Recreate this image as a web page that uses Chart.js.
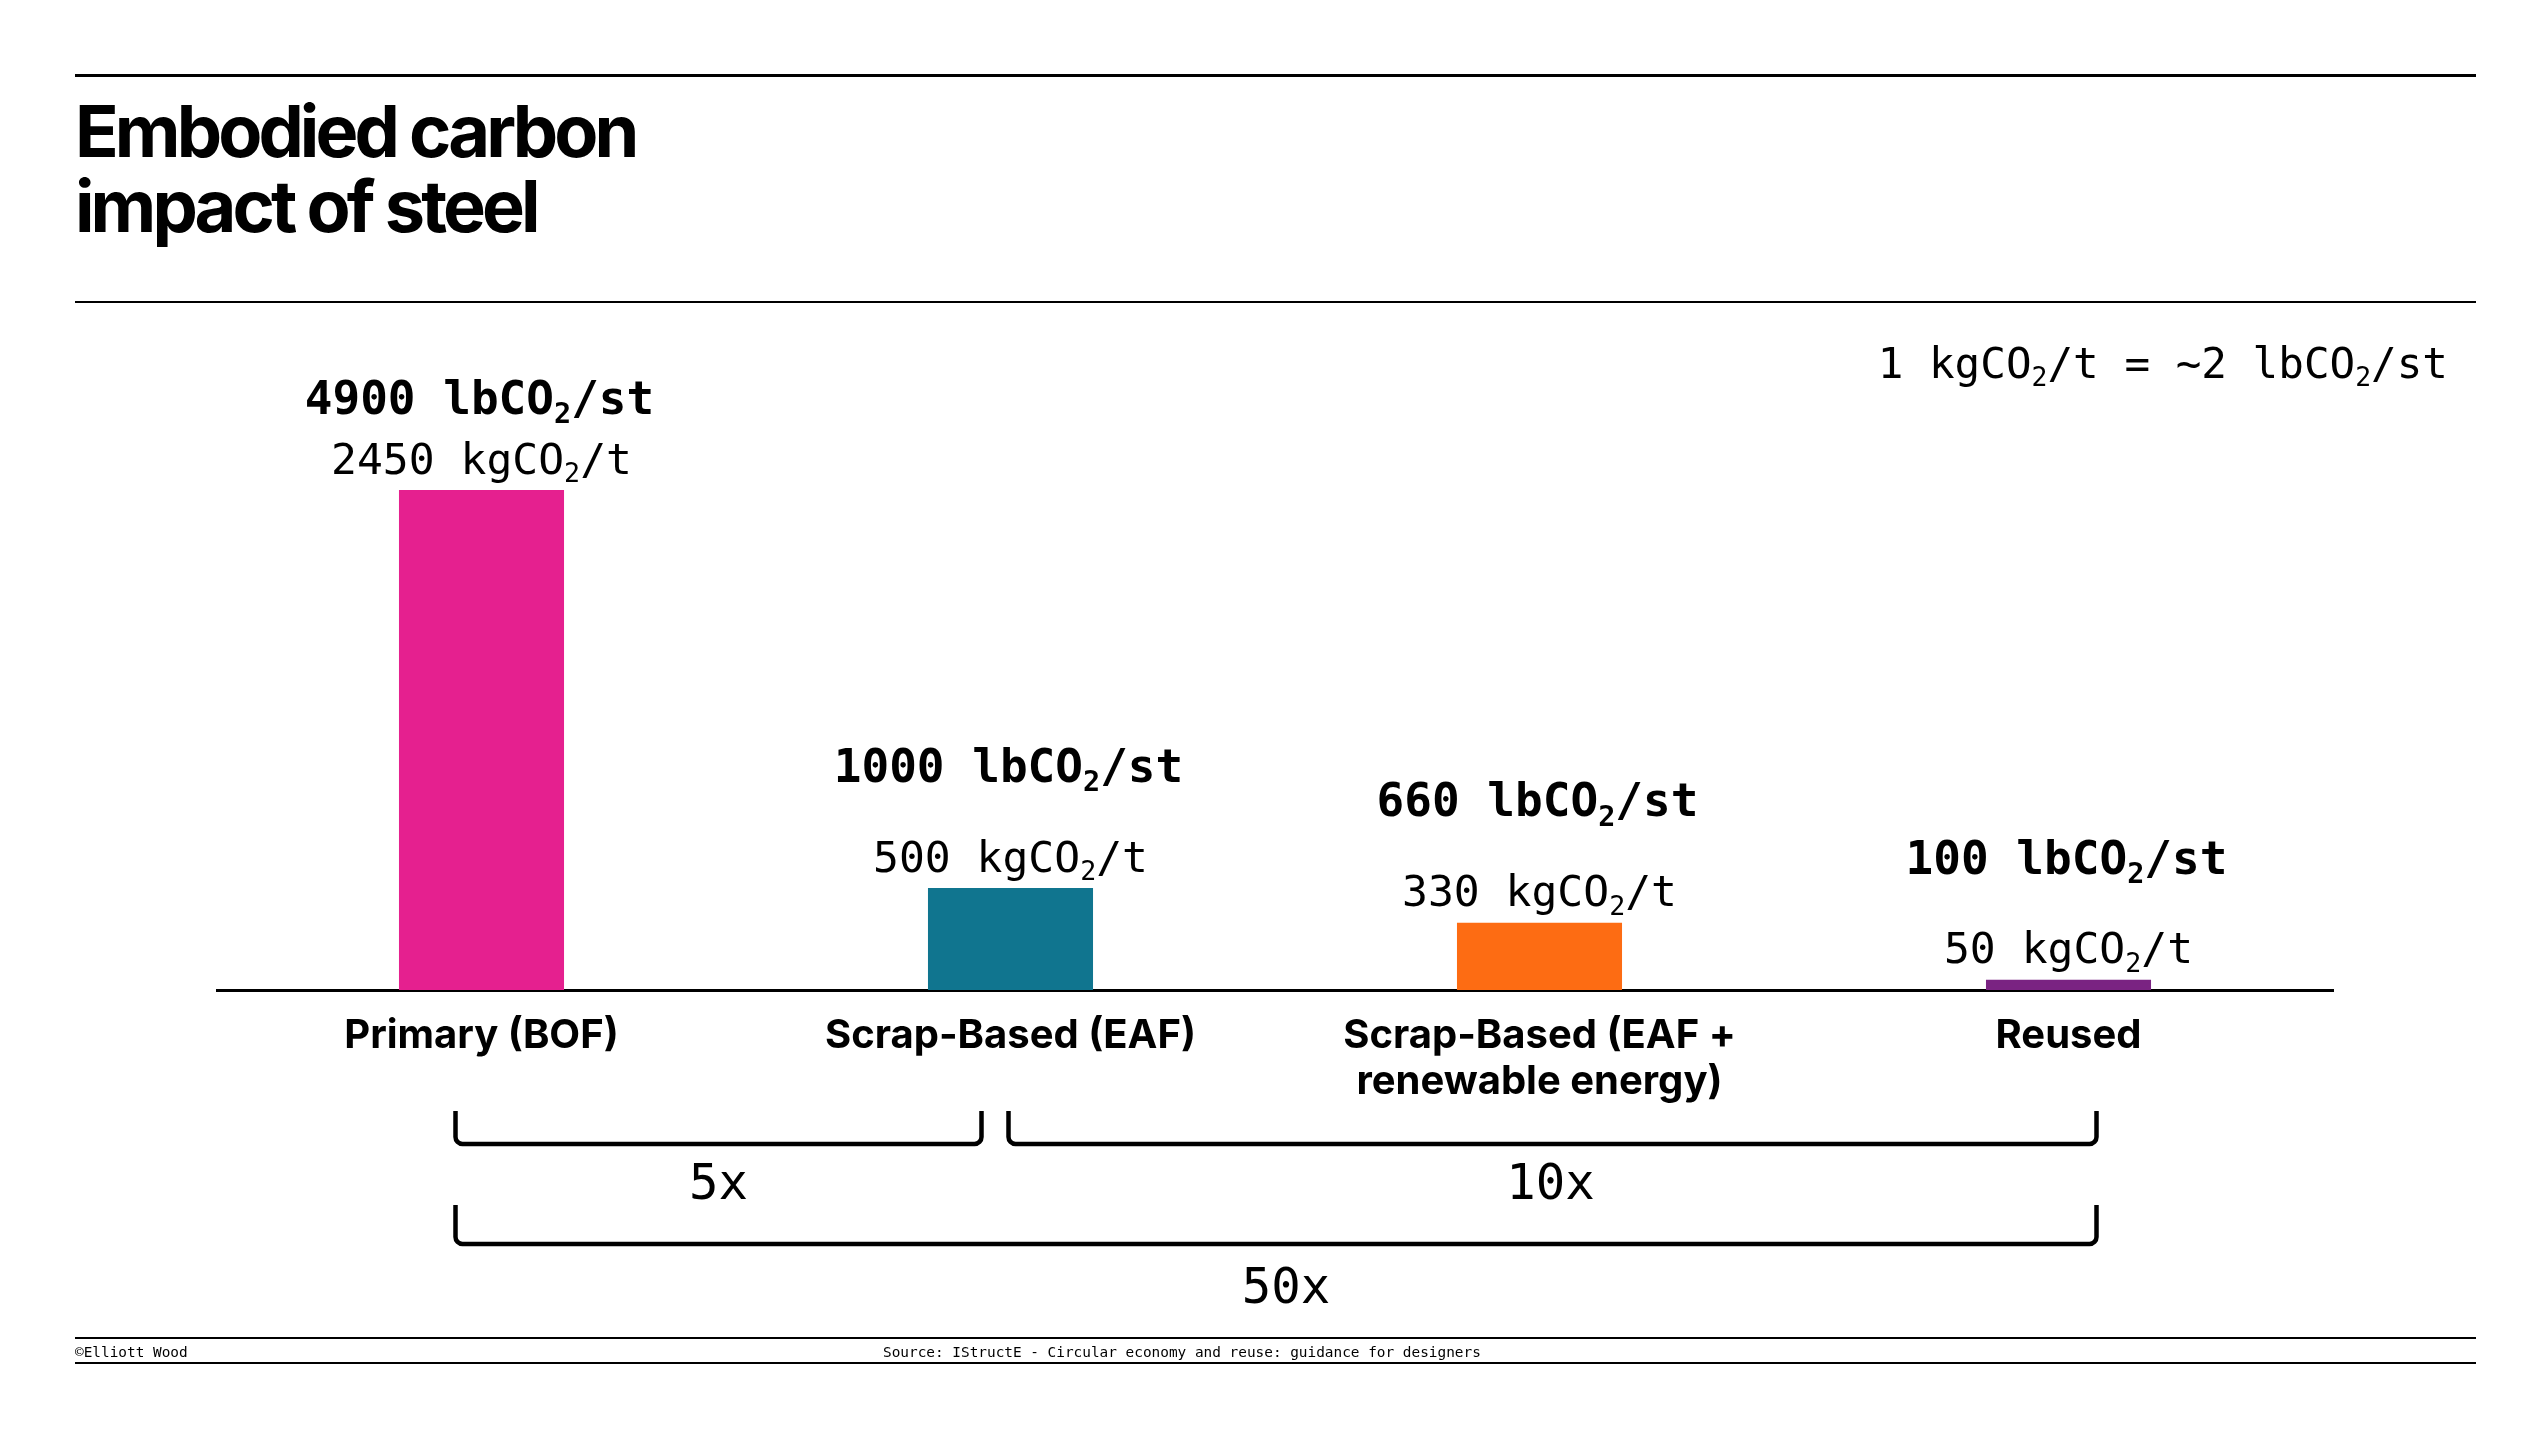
<!DOCTYPE html>
<html><head><meta charset="utf-8">
<script src="https://cdn.jsdelivr.net/npm/chart.js@4"></script>
<style>
html,body{margin:0;padding:0;background:#fff;width:2544px;height:1438px;overflow:hidden;}
#wrap{position:absolute;left:0;top:0;width:2544px;height:1438px;}
.rule{position:absolute;left:75px;width:2401px;background:#000;}
#title{position:absolute;left:75px;top:93px;font-family:Inter,'Liberation Sans',sans-serif;font-weight:700;font-size:72px;line-height:75px;letter-spacing:-3.9px;color:#000;margin:0;}
.foot{position:absolute;top:1343px;font-family:'DejaVu Sans Mono',monospace;font-size:14.4px;line-height:18px;color:#000;white-space:pre;}
</style></head>
<body>
<div class="rule" style="top:74px;height:3px"></div>
<h1 id="title">Embodied carbon<br>impact of steel</h1>
<div class="rule" style="top:301px;height:2px"></div>
<div id="wrap"><canvas id="c"></canvas></div>
<div class="rule" style="top:1337px;height:2px"></div>
<div class="foot" style="left:75px">©Elliott Wood</div>
<div class="foot" style="left:883px">Source: IStructE - Circular economy and reuse: guidance for designers</div>
<div class="rule" style="top:1362px;height:2px"></div>
<script>
// ---- data ----
const categories = [['Primary (BOF)'], ['Scrap-Based (EAF)'], ['Scrap-Based (EAF +', 'renewable energy)'], ['Reused']];
const kgValues = [2450, 500, 330, 50];
const lbValues = [4900, 1000, 660, 100];
const barColors = ['#E5208F', '#10758F', '#FD6C13', '#7A2382'];
const compFrom = [0, 1, 0];
const compTo = [1, 3, 3];
const compLabels = ['5x', '10x', '50x'];
const conversionNote = [['1 kgCO', false], ['2', true], ['/t = ~2 lbCO', false], ['2', true], ['/st', false]];

const MONO = "'DejaVu Sans Mono', monospace";
function drawRich(ctx, parts, x, y, size, weight, align) {
  const subSize = size * 0.62;
  const widths = parts.map(p => { ctx.font = `${weight} ${p[1] ? subSize : size}px ${MONO}`; return ctx.measureText(p[0]).width; });
  const total = widths.reduce((a, b) => a + b, 0);
  let cx = align === 'center' ? x - total / 2 : align === 'right' ? x - total : x;
  ctx.textAlign = 'left'; ctx.textBaseline = 'alphabetic'; ctx.fillStyle = '#000';
  parts.forEach((p, i) => {
    ctx.font = `${weight} ${p[1] ? subSize : size}px ${MONO}`;
    ctx.fillText(p[0], cx, p[1] ? y + size * 0.2 : y);
    cx += widths[i];
  });
}

const annot = {
  id: 'annot',
  afterDraw(chart) {
    const ctx = chart.ctx;
    const meta = chart.getDatasetMeta(0);
    const xs = chart.scales.x;
    ctx.save();
    // value labels
    meta.data.forEach((bar, i) => {
      const kgC = bar.y - 32;
      const lbC = Math.max(kgC - 91, 397);
      drawRich(ctx, [[kgValues[i] + ' kgCO', false], ['2', true], ['/t', false]], bar.x, kgC + 0.365 * 43, 43, 400, 'center');
      drawRich(ctx, [[lbValues[i] + ' lbCO', false], ['2', true], ['/st', false]], bar.x - 2, lbC + 0.365 * 46, 46, 700, 'center');
    });
    // conversion note
    drawRich(ctx, conversionNote, 2448, 362 + 0.365 * 42.6, 42.6, 400, 'right');
    // brackets
    const rowTop = [1111, 1205], rowBot = [1144, 1244], labY = [1186, 1290];
    const offs = [[-26, -29], [-2, 28], [-26, 28]];
    const labDx = [0, -2, 10];
    const rows = [0, 0, 1];
    ctx.strokeStyle = '#000'; ctx.lineWidth = 4.5; ctx.lineJoin = 'round'; ctx.lineCap = 'butt';
    compLabels.forEach((lab, k) => {
      const x1 = xs.getPixelForValue(compFrom[k]) + offs[k][0];
      const x2 = xs.getPixelForValue(compTo[k]) + offs[k][1];
      const t = rowTop[rows[k]], b = rowBot[rows[k]], r = 7;
      ctx.beginPath();
      ctx.moveTo(x1, t);
      ctx.arcTo(x1, b, x1 + r, b, r);
      ctx.arcTo(x2, b, x2, b - r, r);
      ctx.lineTo(x2, t);
      ctx.stroke();
      ctx.font = `400 49px ${MONO}`;
      ctx.textAlign = 'center'; ctx.textBaseline = 'middle'; ctx.fillStyle = '#000';
      ctx.fillText(lab, (x1 + x2) / 2 + labDx[k], labY[rows[k]]);
    });
    ctx.restore();
  }
};

new Chart(document.getElementById('c'), {
  type: 'bar',
  data: {
    labels: categories,
    datasets: [{ data: kgValues, backgroundColor: barColors, borderWidth: 0, barPercentage: 0.312, categoryPercentage: 1 }]
  },
  options: {
    responsive: true, maintainAspectRatio: false, animation: false,
    devicePixelRatio: 1,
    layout: { padding: { left: 217, right: 211, top: 490, bottom: 0 } },
    plugins: { legend: { display: false }, tooltip: { enabled: false }, title: { display: false } },
    scales: {
      y: { display: false, min: 0, max: 2450 },
      x: {
        grid: { display: false, drawTicks: false },
        border: { display: true, color: '#000', width: 3 },
        ticks: { color: '#000', padding: 23, maxRotation: 0, autoSkip: false,
          font: { family: "Inter, 'Liberation Sans', sans-serif", weight: 700, size: 40, lineHeight: 1.15 } },
        afterFit(scale) { scale.height = 448; }
      }
    }
  },
  plugins: [annot]
});
</script>
</body></html>
